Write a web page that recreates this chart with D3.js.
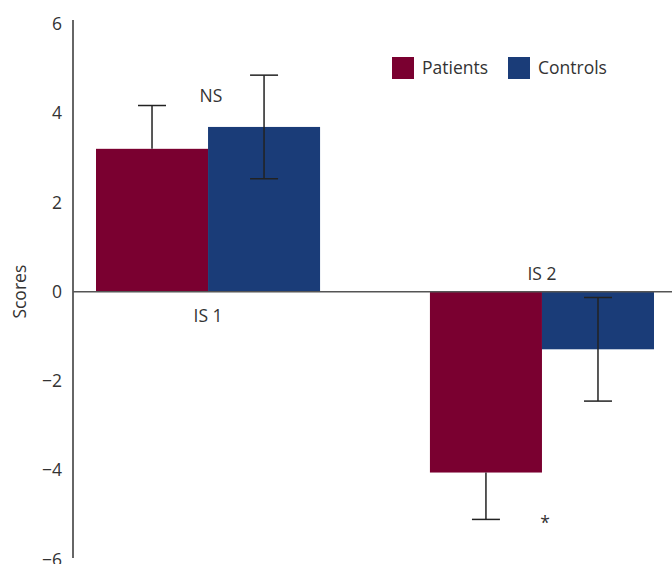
<!DOCTYPE html>
<html>
<head>
<meta charset="utf-8">
<script src="https://cdn.jsdelivr.net/npm/d3@7"></script>
<style>
  body { margin: 0; background: #fff; }
  svg text { font-family: "Open Sans", sans-serif; fill: #333; }
</style>
</head>
<body>
<div id="chart"></div>
<script>
var categories = ["IS 1", "IS 2"];
var seriesNames = ["Patients", "Controls"];
var patientValues = [3.2, -4.05];
var controlValues = [3.69, -1.29];
var patientErrors = [0.97, 1.05];
var controlErrors = [1.16, 1.16];
var yTicks = [6, 4, 2, 0, -2, -4, -6];
var colors = ["#7a0030", "#1a3c78"];

var width = 672, height = 564;
var fontSize = "17.5px";

var svg = d3.select("#chart").append("svg")
    .attr("width", width)
    .attr("height", height);

var yScale = d3.scaleLinear()
    .domain([-6, 6])
    .range([559.6, 23.8]);

var xScale = d3.scaleBand()
    .domain(categories)
    .range([96, 654])
    .paddingInner(0.329)
    .paddingOuter(0);

var xSub = d3.scaleBand()
    .domain(seriesNames)
    .range([0, xScale.bandwidth()]);

var axisX = 73;

// y axis line, no ticks
svg.append("line")
    .attr("x1", axisX).attr("x2", axisX)
    .attr("y1", 20).attr("y2", 558)
    .attr("stroke", "#333")
    .attr("stroke-width", 1.5);

svg.selectAll("text.ytick")
    .data(yTicks)
    .enter().append("text")
    .attr("class", "ytick")
    .attr("x", 62)
    .attr("y", d => yScale(d))
    .attr("dy", "0.35em")
    .attr("text-anchor", "end")
    .style("font-size", fontSize)
    .text(d => d < 0 ? "\u2212" + Math.abs(d) : d);

svg.append("text")
    .attr("transform", "translate(26," + yScale(0) + ") rotate(-90)")
    .attr("text-anchor", "middle")
    .style("font-size", fontSize)
    .text("Scores");

var rows = [];
categories.forEach((c, i) => {
    rows.push({ cat: c, series: "Patients", value: patientValues[i], err: patientErrors[i], both: false, color: colors[0] });
    rows.push({ cat: c, series: "Controls", value: controlValues[i], err: controlErrors[i], both: true, color: colors[1] });
});

svg.selectAll("rect.bar")
    .data(rows)
    .enter().append("rect")
    .attr("class", "bar")
    .attr("x", d => xScale(d.cat) + xSub(d.series))
    .attr("width", xSub.bandwidth())
    .attr("y", d => yScale(Math.max(0, d.value)))
    .attr("height", d => Math.abs(yScale(d.value) - yScale(0)))
    .attr("fill", d => d.color);

// zero line
svg.append("line")
    .attr("x1", axisX).attr("x2", width)
    .attr("y1", yScale(0)).attr("y2", yScale(0))
    .attr("stroke", "#555")
    .attr("stroke-width", 1.5);

// error bars
rows.forEach(d => {
    var cx = xScale(d.cat) + xSub(d.series) + xSub.bandwidth() / 2;
    var dir = d.value >= 0 ? 1 : -1;
    var far = d.value + dir * d.err;
    var near = d.both ? d.value - dir * d.err : d.value;
    var g = svg.append("g").attr("stroke", "#222").attr("stroke-width", 1.5);
    g.append("line")
        .attr("x1", cx).attr("x2", cx)
        .attr("y1", yScale(near)).attr("y2", yScale(far));
    g.append("line")
        .attr("x1", cx - 14).attr("x2", cx + 14)
        .attr("y1", yScale(far)).attr("y2", yScale(far));
    if (d.both) {
        g.append("line")
            .attr("x1", cx - 14).attr("x2", cx + 14)
            .attr("y1", yScale(near)).attr("y2", yScale(near));
    }
});

// category labels
svg.append("text")
    .attr("x", xScale("IS 1") + xScale.bandwidth() / 2)
    .attr("y", 322)
    .attr("text-anchor", "middle")
    .style("font-size", fontSize)
    .text("IS 1");

svg.append("text")
    .attr("x", xScale("IS 2") + xScale.bandwidth() / 2)
    .attr("y", 280)
    .attr("text-anchor", "middle")
    .style("font-size", fontSize)
    .text("IS 2");

svg.append("text")
    .attr("x", 211)
    .attr("y", 102)
    .attr("text-anchor", "middle")
    .style("font-size", fontSize)
    .text("NS");

svg.append("text")
    .attr("x", 545)
    .attr("y", 529)
    .attr("text-anchor", "middle")
    .style("font-size", fontSize)
    .text("*");

// legend
var legendX = [392, 508];
var legend = svg.selectAll("g.legend")
    .data(seriesNames)
    .enter().append("g")
    .attr("class", "legend")
    .attr("transform", (d, i) => "translate(" + legendX[i] + ",57)");

legend.append("rect")
    .attr("width", 22).attr("height", 22)
    .attr("fill", (d, i) => colors[i]);

legend.append("text")
    .attr("x", 30)
    .attr("y", 17)
    .style("font-size", fontSize)
    .text(d => d);
</script>
</body>
</html>
